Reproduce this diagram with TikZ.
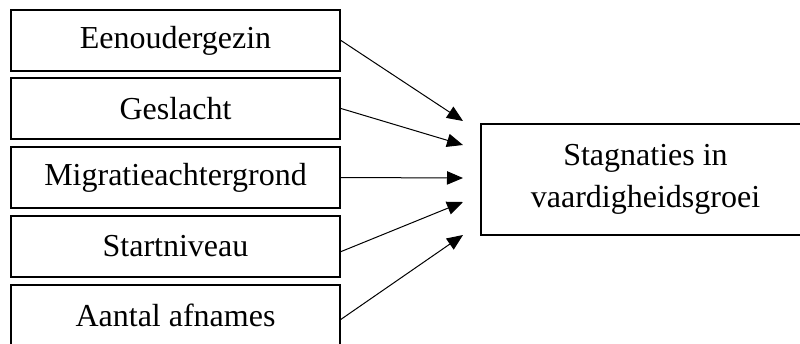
\documentclass[tikz,border=0pt]{standalone}
\usepackage{fontspec}
\setmainfont{Liberation Serif}
\usetikzlibrary{arrows.meta}
\tikzset{
  lbox/.style={draw, line width=1.5pt, minimum width=246.75pt, minimum height=45.75pt, inner sep=0pt,
    font=\fontsize{24}{31.5}\selectfont},
  rbox/.style={draw, line width=1.5pt, minimum width=246.75pt, minimum height=83.25pt, inner sep=0pt,
    align=center, font=\fontsize{24}{31.5}\selectfont},
  conn/.style={line width=0.75pt, -{Triangle[length=12pt,width=10pt]}}
}
\begin{document}
\begin{tikzpicture}[x=0.75pt,y=-0.75pt]
\useasboundingbox (0,0) rectangle (800,343);
\clip (0,0) rectangle (800,343);
\node[lbox] (b1) at (175.5,40.5) {Eenoudergezin};
\node[lbox] (b2) at (175.5,108.5) {Geslacht};
\node[lbox] (b3) at (175.5,177.5) {Migratieachtergrond};
\node[lbox] (b4) at (175.5,246.5) {Startniveau};
\node[lbox] (b5) at (175.5,315.5) {Aantal afnames};
\node[rbox] (r) at (645.5,179.5) {Stagnaties in\\vaardigheidsgroei};
\coordinate (s4) at (340,252);
\coordinate (s5) at (340,320);
\coordinate (e1) at (463,121);
\coordinate (e2) at (463,145);
\coordinate (e3) at (463,178);
\coordinate (e4) at (463,202);
\coordinate (e5) at (463,235);
\draw[conn] (b1.east) -- (e1);
\draw[conn] (b2.east) -- (e2);
\draw[conn] (b3.east) -- (e3);
\draw[conn] (s4) -- (e4);
\draw[conn] (s5) -- (e5);
\end{tikzpicture}
\end{document}
